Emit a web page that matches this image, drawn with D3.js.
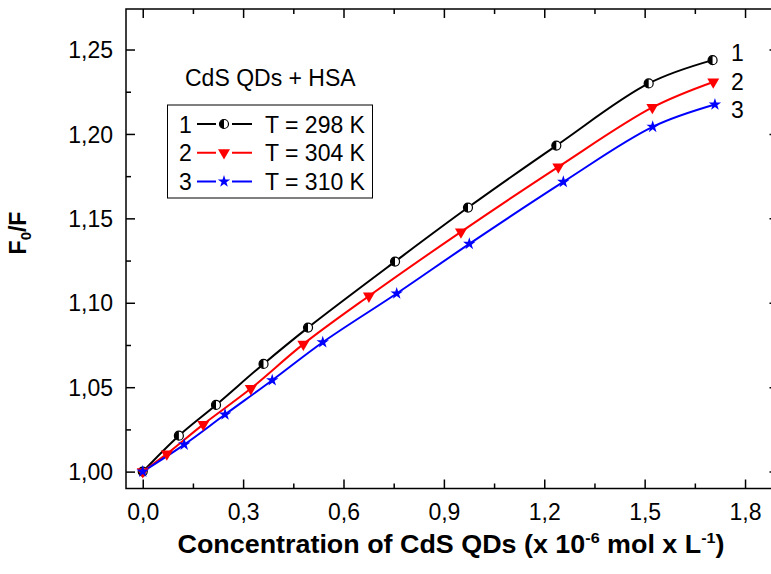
<!DOCTYPE html>
<html><head><meta charset="utf-8">
<script src="https://cdn.jsdelivr.net/npm/d3@7"></script>
<style>body{margin:0;background:#fff}svg{display:block;font-family:"Liberation Sans",Arial,sans-serif}</style>
</head><body><svg id="c" width="771" height="574"></svg>
<script>
const x298 = [0, 0.108, 0.219, 0.361, 0.494, 0.754, 0.972, 1.236, 1.512, 1.703];
const y298 = [1.000, 1.0213, 1.0395, 1.0638, 1.0853, 1.1244, 1.1564, 1.1931, 1.2299, 1.2437];
const x304 = [0, 0.072, 0.181, 0.323, 0.480, 0.676, 0.951, 1.242, 1.523, 1.705];
const y304 = [1.000, 1.0105, 1.0280, 1.0492, 1.0755, 1.1040, 1.1420, 1.1805, 1.2157, 1.2308];
const x310 = [0, 0.124, 0.246, 0.387, 0.538, 0.759, 0.976, 1.257, 1.524, 1.710];
const y310 = [1.000, 1.0160, 1.0338, 1.0541, 1.0766, 1.1055, 1.1349, 1.1716, 1.2042, 1.2174];
const seriesNames = ["T = 298 K", "T = 304 K", "T = 310 K"];
const seriesIds = ["1", "2", "3"];
const seriesColors = ["#000000", "#ff0000", "#0000ff"];
const xMajor = [0, 0.3, 0.6, 0.9, 1.2, 1.5, 1.8];
const xMinor = [0.15, 0.45, 0.75, 1.05, 1.35, 1.65];
const yMajor = [1.00, 1.05, 1.10, 1.15, 1.20, 1.25];
const yMinor = [1.025, 1.075, 1.125, 1.175, 1.225];

const svg = d3.select("#c");
const L = 126, R = 778.5, T = 9, B = 488.5;
const x = d3.scaleLinear().domain([-0.05, 1.9]).range([L, R]);
const y = d3.scaleLinear().domain([0.99, 1.274]).range([B, T]);
const fmtX = d => d3.format(".1f")(d).replace(".", ",");
const fmtY = d => d3.format(".2f")(d).replace(".", ",");

function axisTicks(axis, vals, len, fmt, showLabels) {
  return axis.tickValues(vals).tickSizeInner(-len).tickSizeOuter(0).tickPadding(0)
    .tickFormat(showLabels ? fmt : () => "");
}
const gB = svg.append("g").attr("transform", `translate(0,${B})`);
gB.call(axisTicks(d3.axisBottom(x), xMajor, 9, fmtX, true));
gB.append("g").call(axisTicks(d3.axisBottom(x), xMinor, 5, fmtX, false));
const gT = svg.append("g").attr("transform", `translate(0,${T})`);
gT.call(axisTicks(d3.axisTop(x), xMajor, 9, fmtX, false));
gT.append("g").call(axisTicks(d3.axisTop(x), xMinor, 5, fmtX, false));
const gL = svg.append("g").attr("transform", `translate(${L},0)`);
gL.call(axisTicks(d3.axisLeft(y), yMajor, 9, fmtY, true));
gL.append("g").call(axisTicks(d3.axisLeft(y), yMinor, 5, fmtY, false));
const gR = svg.append("g").attr("transform", `translate(${R},0)`);
gR.call(axisTicks(d3.axisRight(y), yMajor, 9, fmtY, false));
gR.append("g").call(axisTicks(d3.axisRight(y), yMinor, 5, fmtY, false));

svg.selectAll(".domain").remove();
svg.selectAll(".tick line").attr("stroke", "#000").attr("stroke-width", 1.5);
svg.selectAll(".tick text").attr("font-size", 23).attr("fill", "#000")
  .attr("font-family", "'Liberation Sans', Arial, sans-serif");
gB.selectAll(".tick text").attr("dy", 0).attr("y", 31);
gL.selectAll(".tick text").attr("x", -13).attr("dy", "0.35em");

svg.append("rect").attr("x", L).attr("y", T).attr("width", R - L).attr("height", B - T)
  .attr("fill", "none").attr("stroke", "#000").attr("stroke-width", 1.5);

const data = [[x298, y298], [x304, y304], [x310, y310]].map(([xs, ys]) => xs.map((v, i) => [v, ys[i]]));
const line = d3.line().x(d => x(d[0])).y(d => y(d[1])).curve(d3.curveCatmullRom.alpha(0.5));

function marker(g, k, cx, cy) {
  if (k === 0) {
    const r = 4.5;
    g.append("circle").attr("cx", cx).attr("cy", cy).attr("r", r).attr("fill", "#fff").attr("stroke", "#000").attr("stroke-width", 1.2);
    g.append("path").attr("d", `M${cx},${cy - r}A${r},${r} 0 0 0 ${cx},${cy + r}Z`).attr("fill", "#000");
  } else if (k === 1) {
    g.append("path").attr("d", d3.symbol(d3.symbolTriangle, 62)()).attr("fill", seriesColors[1])
      .attr("transform", `translate(${cx},${cy}) rotate(180)`);
  } else {
    g.append("path").attr("d", d3.symbol(d3.symbolStar, 48)()).attr("fill", seriesColors[2])
      .attr("transform", `translate(${cx},${cy})`);
  }
}

data.forEach((pts, k) => {
  svg.append("path").datum(pts).attr("d", line).attr("fill", "none")
    .attr("stroke", seriesColors[k]).attr("stroke-width", 2);
});
data.forEach((pts, k) => {
  const g = svg.append("g");
  pts.forEach(p => marker(g, k, x(p[0]), y(p[1])));
});

const endLabelBase = [61, 90, 118];
seriesIds.forEach((s, k) => {
  svg.append("text").attr("x", 731).attr("y", endLabelBase[k]).attr("font-size", 23).text(s);
});

svg.append("text").attr("x", 185).attr("y", 86).attr("font-size", 23).text("CdS QDs + HSA");

svg.append("rect").attr("x", 167.5).attr("y", 105).attr("width", 205).attr("height", 93)
  .attr("fill", "#fff").attr("stroke", "#000").attr("stroke-width", 1);
const legY = [124, 152.7, 181.5];
seriesNames.forEach((n, k) => {
  const ly = legY[k];
  svg.append("text").attr("x", 179).attr("y", ly + 8.5).attr("font-size", 23).text(seriesIds[k]);
  svg.append("line").attr("x1", 197).attr("x2", 252).attr("y1", ly).attr("y2", ly)
    .attr("stroke", seriesColors[k]).attr("stroke-width", 2);
  const g = svg.append("g");
  g.append("rect").attr("x", 216).attr("y", ly - 6).attr("width", 16).attr("height", 12).attr("fill", "#fff");
  marker(g, k, 224, ly);
  svg.append("text").attr("x", 265).attr("y", ly + 8.5).attr("font-size", 23).text(n);
});

const xt = svg.append("text").attr("x", 451).attr("y", 553).attr("text-anchor", "middle")
  .attr("font-size", 25).attr("font-weight", "bold")
  .attr("textLength", 547).attr("lengthAdjust", "spacingAndGlyphs");
xt.append("tspan").text("Concentration of CdS QDs (x 10");
xt.append("tspan").attr("font-size", 15).attr("dy", -10).text("-6");
xt.append("tspan").attr("dy", 10).text(" mol x L");
xt.append("tspan").attr("font-size", 15).attr("dy", -10).text("-1");
xt.append("tspan").attr("dy", 10).text(")");

const yt = svg.append("text").attr("transform", "translate(26,233) rotate(-90)").attr("text-anchor", "middle")
  .attr("font-size", 23).attr("font-weight", "bold");
yt.append("tspan").text("F");
yt.append("tspan").attr("font-size", 15).attr("dy", 5).text("0");
yt.append("tspan").attr("dy", -5).text("/F");
</script></body></html>
